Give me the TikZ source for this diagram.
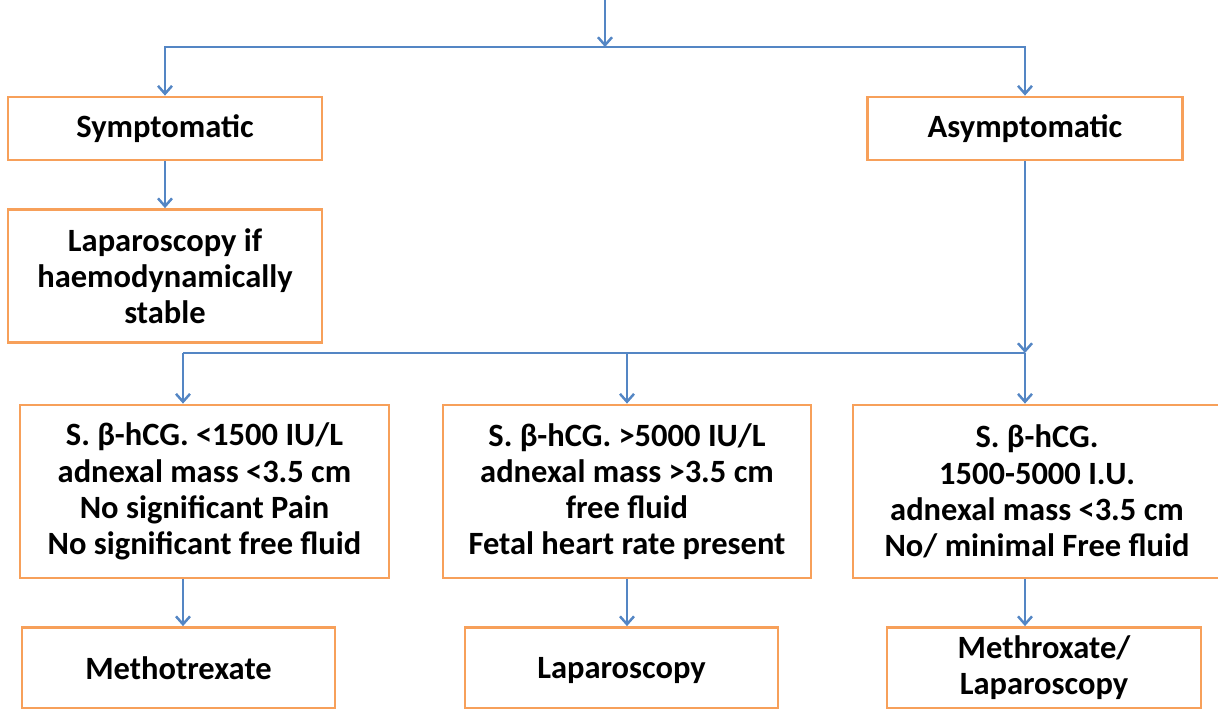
\documentclass[tikz,border=0pt]{standalone}
\usepackage{fontspec}
\setmainfont{Carlito}
\usetikzlibrary{arrows.meta}
\definecolor{flowblue}{RGB}{84,134,196}
\definecolor{boxorange}{RGB}{247,160,90}

\begin{document}
\begin{tikzpicture}[x=0.02cm,y=-0.02cm,
	font=\bfseries\fontsize{18.5pt}{20.6pt}\selectfont]
	
	\tikzstyle{box} = [draw=boxorange,line width=1.6pt,align=center,inner sep=0pt]
	\tikzstyle{link} = [draw=flowblue,line width=1.4pt,-{Straight Barb[length=4.5pt,width=8pt]}]
	\tikzstyle{wire} = [draw=flowblue,line width=1.4pt]
	
	\useasboundingbox (0,0) rectangle (1218,709);
	\clip (0,0) rectangle (1218,709);
	
	% split points
	\coordinate (top) at (605,-5);
	\coordinate (split1) at (605,47);
	\coordinate (split2) at (1025,353);
	\coordinate (col1) at (183,353);
	\coordinate (col2) at (627,353);
	
	% upper boxes
	\node[box,minimum width=6.28cm,minimum height=1.26cm] (sym) at (165,128.5) {Symptomatic};
	\node[box,minimum width=6.3cm,minimum height=1.26cm] (asym) at (1025,128.5) {Asymptomatic};
	\node[box,minimum width=6.28cm,minimum height=2.66cm] (lapif) at (165,276) {Laparoscopy if\\haemodynamically\\stable};
	
	% criteria
	\node[box,minimum width=7.38cm,minimum height=3.46cm] (crit1) at (204.5,491.5)
	{S. β-hCG. <1500 IU/L\\adnexal mass <3.5 cm\\No significant Pain\\No significant free fluid};
	\node[box,minimum width=7.36cm,minimum height=3.46cm] (crit2) at (627,491.5)
	{S. β-hCG. >5000 IU/L\\adnexal mass >3.5 cm\\free fluid\\Fetal heart rate present};
	\node[box,minimum width=7.36cm,minimum height=3.46cm] (crit3) at (1037,491.5)
	{S. β-hCG.\\1500-5000 I.U.\\adnexal mass <3.5 cm\\No/ minimal Free fluid};
	
	% treatment
	\node[box,minimum width=6.26cm,minimum height=1.62cm] (treat1) at (178.5,668) {Methotrexate};
	\node[box,minimum width=6.26cm,minimum height=1.62cm,text depth=0pt] (treat2) at (621.5,668) {Laparoscopy};
	\node[box,minimum width=6.28cm,minimum height=1.62cm] (treat3) at (1044,668) {Methroxate/\\Laparoscopy};
	
	% connectors
	\draw[link] (top) -- (split1);
	\draw[link] (split1) -| (sym);
	\draw[link] (split1) -| (asym);
	\draw[link] (sym) -- (lapif);
	\draw[link] (asym) -- (split2);
	\draw[wire] (col1) -- (split2);
	\draw[link] (col1) -- (col1 |- crit1.north);
	\draw[link] (col2) -- (col2 |- crit2.north);
	\draw[link] (split2) -- (split2 |- crit3.north);
	\draw[link] (col1 |- crit1.south) -- (col1 |- treat1.north);
	\draw[link] (col2 |- crit2.south) -- (col2 |- treat2.north);
	\draw[link] (split2 |- crit3.south) -- (split2 |- treat3.north);
	
\end{tikzpicture}
\end{document}
